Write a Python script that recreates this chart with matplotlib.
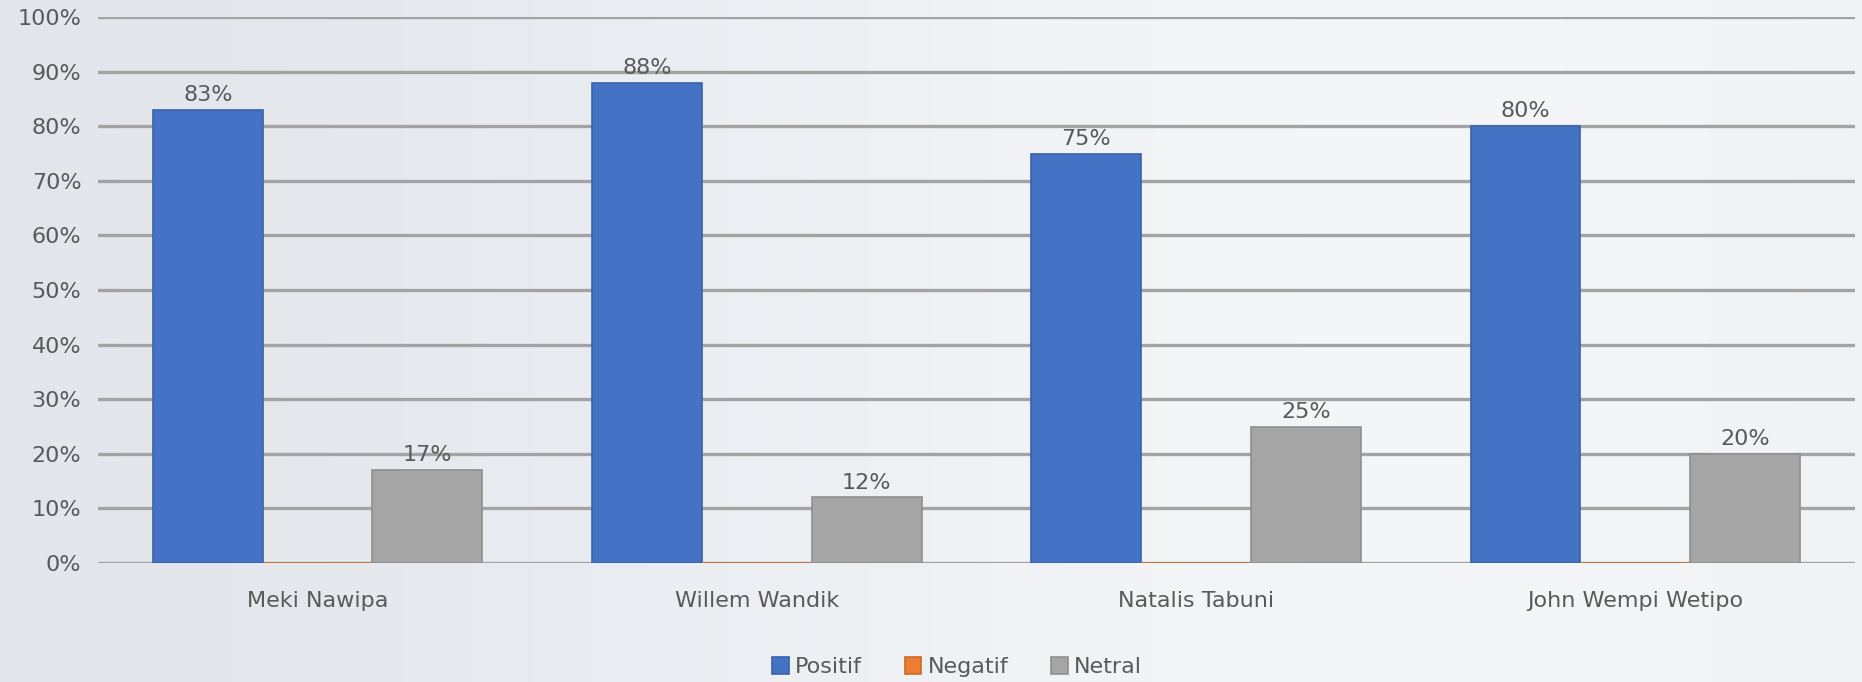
import numpy as np
import matplotlib.pyplot as plt

plt.rcParams['font.family'] = ['DejaVu Sans']

kandidat = ['Meki Nawipa', 'Willem Wandik', 'Natalis Tabuni', 'John Wempi Wetipo']
positif = [83, 88, 75, 80]
negatif = [0, 0, 0, 0]
netral = [17, 12, 25, 20]
yticks = [0, 10, 20, 30, 40, 50, 60, 70, 80, 90, 100]

fig = plt.figure(figsize=(18.62, 6.82), dpi=100)

# light grey-blue gradient background
bg = fig.add_axes([0, 0, 1, 1], zorder=-10)
gx = np.linspace(0, 1, 300)
grad = 0.5 - 0.5 * np.cos(gx * np.pi * 1.3)
img = np.zeros((2, 300, 3))
c0 = np.array([0.89, 0.905, 0.925])
c1 = np.array([0.955, 0.962, 0.972])
for k in range(2):
    img[k] = c0 + (c1 - c0) * grad[:, None]
bg.imshow(img, aspect='auto', extent=[0, 1, 0, 1])
bg.set_axis_off()

ax = fig.add_axes([0.0526, 0.1745, 0.9436, 0.8005])
ax.patch.set_alpha(0)

x = np.arange(len(kandidat))
w = 0.25
series = [(positif, '#4472C4', '#3a62a8', 'Positif', -w),
          (negatif, '#ED7D31', '#c96a2a', 'Negatif', 0),
          (netral, '#A5A5A5', '#8f8f8f', 'Netral', w)]

fs = 16
for vals, col, ecol, lab, off in series:
    bars = ax.bar(x + off, vals, width=w, color=col, edgecolor=ecol,
                  linewidth=1.2, label=lab, zorder=3)
    for b, v in zip(bars, vals):
        if v > 0:
            ax.text(b.get_x() + b.get_width() / 2, v + 0.9, f'{v}%',
                    ha='center', va='bottom', fontsize=fs, color='#595959')

ax.set_xlim(-0.5, len(kandidat) - 0.5)
ax.set_ylim(0, 100)
ax.set_yticks(yticks)
ax.set_yticklabels([f'{t}%' for t in yticks])
ax.yaxis.grid(True, color='#a3a3a3', linewidth=2.4, zorder=0)
ax.set_axisbelow(True)
ax.set_xticks(x)
ax.set_xticklabels(kandidat)
ax.tick_params(axis='y', length=0, pad=12, labelsize=fs, labelcolor='#595959')
ax.tick_params(axis='x', length=0, pad=20, labelsize=fs, labelcolor='#595959')
for s in ax.spines.values():
    s.set_visible(False)

leg = ax.legend(loc='upper center', bbox_to_anchor=(0.489, -0.148), ncol=3,
                frameon=False, fontsize=fs, handlelength=0.75, handleheight=0.8,
                handletextpad=0.3, columnspacing=1.9, borderpad=0.1)
for t in leg.get_texts():
    t.set_color('#595959')

fig.savefig('out.png', dpi=100)
